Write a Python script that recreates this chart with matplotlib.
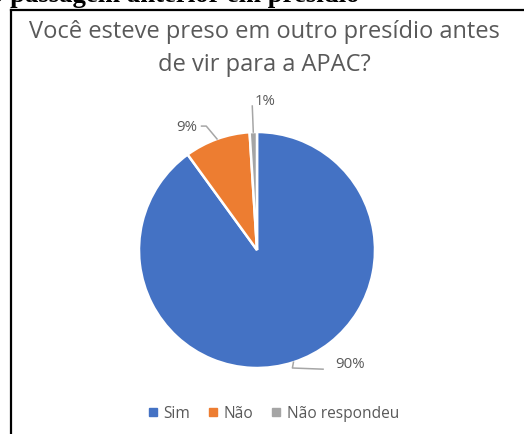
import numpy as np
import matplotlib
matplotlib.use("Agg")
import matplotlib.pyplot as plt
from matplotlib.lines import Line2D

# ---- data ----
categorias = ["Sim", "Não", "Não respondeu"]
percentuais = [90, 9, 1]
cores = ["#4472C4", "#ED7D31", "#A5A5A5"]

titulo = ["Você esteve preso em outro presídio antes", "de vir para a APAC?"]
cabecalho = "o passagem anterior em presídio"

W, H = 524, 435
CINZA = "#595959"
FONTE = "Open Sans"


def fx(px):
    return px / W


def fy(py):
    return 1 - py / H


fig = plt.figure(figsize=(W / 100, H / 100), dpi=100)
fig.patch.set_facecolor("white")

# cut-off heading of the document above the chart
fig.text(fx(360), fy(2.5), cabecalho, family="Liberation Serif", weight="bold",
         fontsize=19.3, color="black", ha="right", va="baseline")

# chart frame (top and left edges visible)
fig.add_artist(Line2D([fx(11), fx(W + 5)], [fy(11), fy(11)], color="black", lw=1.6))
fig.add_artist(Line2D([fx(11), fx(11)], [fy(11), fy(H + 5)], color="black", lw=1.6))

# title, two lines
for linha, y in zip(titulo, [32, 65]):
    fig.text(fx(264), fy(y), linha, family=FONTE, fontsize=17, color=CINZA,
             ha="center", va="center")

# pie
cx, cy, r = 257, 251, 118
ax = fig.add_axes([fx(cx - r), fy(cy + r), (2 * r) / W, (2 * r) / H])
ax.pie(percentuais, colors=cores, startangle=90, counterclock=False,
       wedgeprops=dict(edgecolor="white", linewidth=1.8))
ax.set_xlim(-1, 1)
ax.set_ylim(-1, 1)
ax.set_aspect("equal")
ax.axis("off")

# data labels with leader lines
total = sum(percentuais)
inicio = np.cumsum([0] + percentuais[:-1])
pos_texto = [(0.79, -0.965), (-0.595, 1.045), (0.07, 1.27)]
pos_guia = [[(0.30, -1.00), (0.56, -1.01)],
            [(-0.43, 1.05), (-0.47, 1.05)],
            [(-0.04, 1.22)]]
for v, s, (tx, ty), guia in zip(percentuais, inicio, pos_texto, pos_guia):
    ang = np.deg2rad(90 - 360 * (s + v / 2) / total)
    x0, y0 = np.cos(ang), np.sin(ang)
    xs = [x0] + [p[0] for p in guia]
    ys = [y0] + [p[1] for p in guia]
    ax.plot(xs, ys, color="#A6A6A6", lw=1.1, clip_on=False)
    ax.text(tx, ty, f"{v}%", family=FONTE, fontsize=10.8, color=CINZA,
            ha="center", va="center", clip_on=False)

# legend
handles = [Line2D([], [], marker="s", ls="", color=c, markersize=6) for c in cores]
leg = fig.legend(handles, categorias, loc="center", bbox_to_anchor=(fx(273), fy(414)),
                 ncol=3, frameon=False, handletextpad=0.3, columnspacing=1.05,
                 handlelength=0.8, prop=dict(family=FONTE, size=11.2))
for t in leg.get_texts():
    t.set_color(CINZA)

fig.savefig("out.png", dpi=100)
